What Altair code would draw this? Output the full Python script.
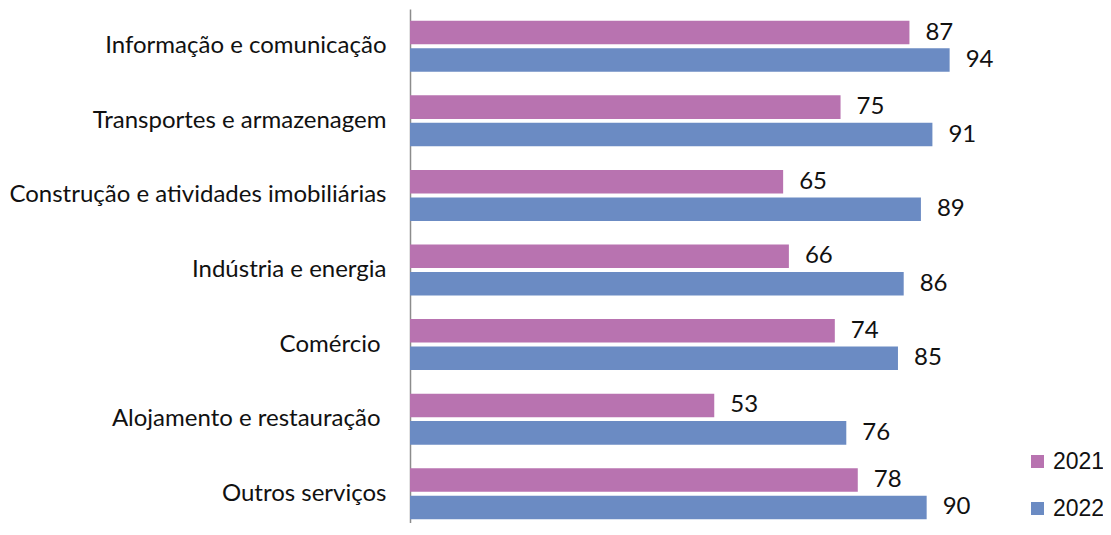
import altair as alt
import pandas as pd

categories = [
    "Informação e comunicação",
    "Transportes e armazenagem",
    "Construção e atividades imobiliárias",
    "Indústria e energia",
    "Comércio",
    "Alojamento e restauração",
    "Outros serviços",
]
years = ["2021", "2022"]
values_2021 = [87, 75, 65, 66, 74, 53, 78]
values_2022 = [94, 91, 89, 86, 85, 76, 90]
colors = ["#B873B0", "#6B8BC3"]

rows = []
for c, v1, v2 in zip(categories, values_2021, values_2022):
    rows.append({"cat": c, "year": "2021", "value": v1})
    rows.append({"cat": c, "year": "2022", "value": v2})
df = pd.DataFrame(rows)

y_enc = alt.Y(
    "cat:N",
    sort=categories,
    scale=alt.Scale(paddingInner=0.316, paddingOuter=0.158, range=[0, 522]),
    axis=alt.Axis(
        title=None,
        ticks=False,
        domainColor="#8c8c8c",
        domainWidth=1.5,
        labelFont="Lato",
        labelFontSize=24,
        labelColor="#111111",
        labelPadding={
            "condition": {
                "test": "datum.value == 'Comércio' || datum.value == 'Alojamento e restauração'",
                "value": 30,
            },
            "value": 24,
        },
        labelLimit=700,
    ),
)
yoff = alt.YOffset("year:N", sort=years, scale=alt.Scale(paddingInner=0.143))
x_enc = alt.X("value:Q", scale=alt.Scale(domain=[0, 108]), axis=None)

bars = alt.Chart(df).mark_bar(cornerRadius=0).encode(
    x=x_enc,
    y=y_enc,
    yOffset=yoff,
    color=alt.Color(
        "year:N",
        scale=alt.Scale(domain=years, range=colors),
        legend=alt.Legend(
            title=None,
            orient="none",
            legendX=616,
            legendY=441,
            symbolType="square",
            symbolSize=169,
            symbolStrokeWidth=0,
            labelFont="Liberation Sans",
            labelFontSize=23,
            labelColor="#111111",
            labelOffset=4,
            rowPadding=23,
        ),
    ),
)

labels = alt.Chart(df).mark_text(
    align="left", baseline="middle", dx=16, font="Lato", fontSize=24, color="#111111"
).encode(
    x=x_enc,
    y=alt.Y("cat:N", sort=categories),
    yOffset=yoff,
    text="value:Q",
)

chart = (
    alt.layer(bars, labels)
    .properties(
        width=620,
        height=514,
        background="white",
        autosize=alt.AutoSizeParams(type="none"),
        padding={"left": 402, "top": 1, "right": 73, "bottom": 0},
    )
    .configure_view(stroke="transparent", strokeWidth=0)
)

chart.save("out.html", embed_options={"renderer": "svg", "actions": False})
